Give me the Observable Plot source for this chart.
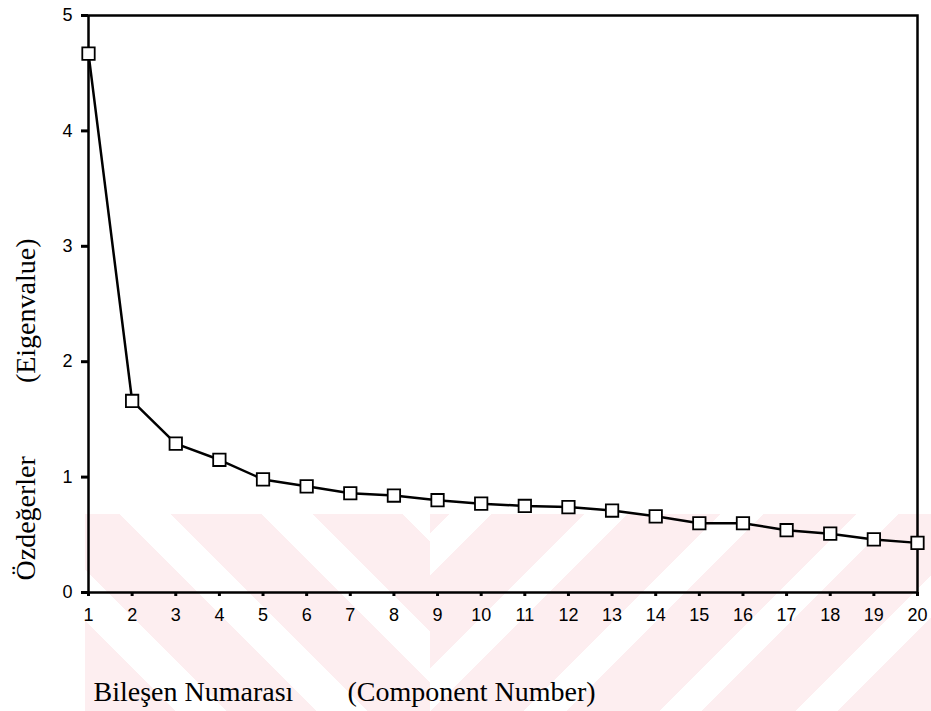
<!DOCTYPE html>
<html>
<head>
<meta charset="utf-8">
<script src="https://cdn.jsdelivr.net/npm/d3@7"></script>
<script src="https://cdn.jsdelivr.net/npm/@observablehq/plot@0.6"></script>
<style>
  body { margin: 0; background: white; }
  #wrap { position: relative; width: 931px; height: 711px; overflow: hidden; }
  .wm { position: absolute; top: 514px; height: 197px; }
  #wmL { left: 85px; width: 345px;
    background: repeating-linear-gradient(45deg, #fdeef0 0 64px, rgba(255,255,255,0) 64px 100px); }
  #wmR { left: 430px; width: 501px;
    background: repeating-linear-gradient(-45deg, #fdeef0 0 66px, rgba(255,255,255,0) 66px 96px); }
  #chart { position: absolute; left: 0; top: 0; }
</style>
</head>
<body>
<div id="wrap">
  <div class="wm" id="wmL"></div>
  <div class="wm" id="wmR"></div>
  <div id="chart"></div>
</div>
<script>
const components = [1,2,3,4,5,6,7,8,9,10,11,12,13,14,15,16,17,18,19,20];
const eigenvalues = [4.67,1.66,1.29,1.15,0.98,0.92,0.86,0.84,0.80,0.77,0.75,0.74,0.71,0.66,0.60,0.60,0.54,0.51,0.46,0.43];
const yTicks = [0,1,2,3,4,5];
const xTicks = components;
const yLabelA = "Özdeğerler";
const yLabelB = "(Eigenvalue)";
const xLabelA = "Bileşen Numarası";
const xLabelB = "(Component Number)";

const data = components.map((c, i) => ({component: c, eigen: eigenvalues[i]}));
const serif = "'Liberation Serif', 'Times New Roman', serif";

const chart = Plot.plot({
  width: 931,
  height: 711,
  marginLeft: 88,
  marginRight: 14,
  marginTop: 15,
  marginBottom: 119,
  style: {background: "transparent", fontFamily: "'Liberation Sans', Arial, sans-serif", fontSize: "18px", color: "black"},
  x: {domain: [1, 20]},
  y: {domain: [0, 5]},
  marks: [
    Plot.frame({stroke: "black", strokeWidth: 2.5}),
    Plot.axisX({ticks: xTicks, tickFormat: d => String(d), tickSize: 4, tickPadding: 12, strokeWidth: 3, fontSize: 18, label: null}),
    Plot.axisY({ticks: yTicks, tickFormat: d => String(d), tickSize: 7, tickPadding: 9, strokeWidth: 3, fontSize: 18, label: null}),
    Plot.line(data, {x: "component", y: "eigen", stroke: "black", strokeWidth: 2.5}),
    Plot.dot(data, {x: "component", y: "eigen", symbol: "square", r: 7, fill: "white", stroke: "black", strokeWidth: 1.8}),
    Plot.text([yLabelA], {text: d => d, frameAnchor: "bottom-left", dx: -62, dy: -12, rotate: -90, textAnchor: "start", lineAnchor: "middle", fontFamily: serif, fontSize: 28}),
    Plot.text([yLabelB], {text: d => d, frameAnchor: "top-left", dx: -62, dy: 223, rotate: -90, textAnchor: "end", lineAnchor: "middle", fontFamily: serif, fontSize: 28}),
    Plot.text([xLabelA], {text: d => d, frameAnchor: "bottom-left", dx: 5, dy: 108, textAnchor: "start", lineAnchor: "bottom", fontFamily: serif, fontSize: 28}),
    Plot.text([xLabelB], {text: d => d, frameAnchor: "bottom-left", dx: 259, dy: 108, textAnchor: "start", lineAnchor: "bottom", fontFamily: serif, fontSize: 28})
  ]
});
document.getElementById("chart").appendChild(chart);
</script>
</body>
</html>
